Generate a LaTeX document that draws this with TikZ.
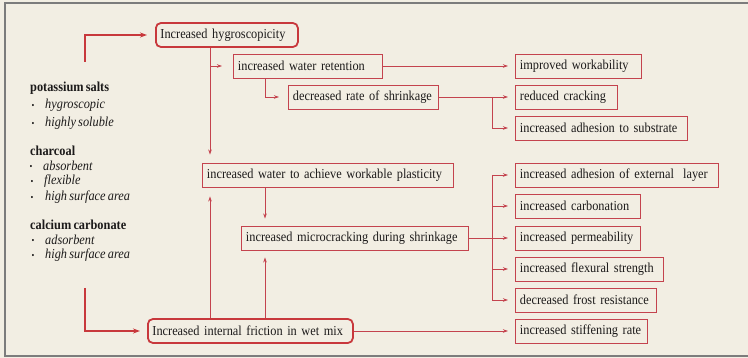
\documentclass[tikz,border=0pt]{standalone}
\usepackage{fontspec}
\setmainfont{Liberation Serif}[FakeStretch=0.9, WordSpace=0.72]
\usetikzlibrary{arrows.meta}
\definecolor{bg}{HTML}{F2EEE3}
\definecolor{boxred}{HTML}{C4434E}
\definecolor{thickred}{HTML}{C8383C}
\definecolor{framegray}{HTML}{7C7C7C}
\definecolor{ink}{HTML}{1C1A1A}
\newcommand{\mysize}{\fontsize{13.7}{16}\selectfont}
\tikzset{
  box/.style={draw=boxred, line width=0.9pt, text width=#1, align=left,
    inner xsep=4.5pt, inner ysep=0pt, minimum height=24pt, anchor=west,
    text=ink, font=\mysize},
  rbox/.style={box=#1, draw=thickred, line width=1.8pt, rounded corners=5pt},
  conn/.style={draw=boxred, line width=0.8pt, -{Stealth[length=5pt,width=3.5pt]}},
  thickconn/.style={draw=thickred, line width=1.8pt, -{Stealth[length=7pt,width=5pt]}},
  hd/.style={anchor=west, inner sep=0pt, text=ink, font=\mysize\bfseries},
  it/.style={anchor=west, inner sep=0pt, text=ink, font=\mysize\itshape},
  bul/.style={anchor=center, inner sep=0pt, text=ink, font=\fontsize{9}{10}\selectfont},
}
\begin{document}
\begin{tikzpicture}[x=1pt,y=-1pt]
\useasboundingbox (0,0) rectangle (748,358);
\fill[bg] (0,0) rectangle (748,358);
\draw[framegray, line width=2pt] (748,3) -- (5,3) -- (5,356) -- (748,356);

% left text
\node[hd] (ks) at (30,88) {potassium salts};
\node[bul] (b1) at (33,106) {\textbullet};
\node[it] (k1) at (45,105) {hygroscopic};
\node[bul] (b2) at (33,124) {\textbullet};
\node[it] (k2) at (45,123) {highly soluble};
\node[hd] (ch) at (30,151) {charcoal};
\node[bul] (b3) at (31,167) {\textbullet};
\node[it] (c1) at (43,166) {absorbent};
\node[bul] (b4) at (32,182) {\textbullet};
\node[it] (c2) at (44,181) {flexible};
\node[bul] (b5) at (32,198) {\textbullet};
\node[it] (c3) at (45,197) {high surface area};
\node[hd] (cc) at (30,225) {calcium carbonate};
\node[bul] (b6) at (33,241) {\textbullet};
\node[it] (d1) at (45,240) {adsorbent};
\node[bul] (b7) at (33,256) {\textbullet};
\node[it] (d2) at (45,255) {high surface area};

% boxes
\node[rbox=133pt] (hyg) at (155,35) {\mbox{Increased hygroscopicity}};
\node[box=140pt] (ret) at (233,66) {\mbox{increased water retention}};
\node[box=141pt] (shr) at (288,97) {\mbox{decreased rate of shrinkage}};
\node[box=117pt] (imp) at (515,66) {\mbox{improved workability}};
\node[box=93pt] (red) at (515,97) {\mbox{reduced cracking}};
\node[box=163pt] (sub) at (515,128) {\mbox{increased adhesion to substrate}};
\node[box=242pt] (wat) at (202,175) {\mbox{increased water to achieve workable plasticity}};
\node[box=194pt] (ext) at (515,175) {\mbox{increased adhesion of external\ \ layer}};
\node[box=116pt] (carb) at (515,206) {\mbox{increased carbonation}};
\node[box=218pt] (mic) at (241,238) {\mbox{increased microcracking during shrinkage}};
\node[box=116pt] (perm) at (515,238) {\mbox{increased permeability}};
\node[box=139pt] (flex) at (515,269) {\mbox{increased flexural strength}};
\node[box=132pt] (frost) at (515,300) {\mbox{decreased frost resistance}};
\node[box=123pt] (stiff) at (515,331) {\mbox{increased stiffening rate}};
\node[rbox=196pt] (fric) at (147,331) {\mbox{Increased internal friction in wet mix}};

% coordinates
\coordinate (s1) at (85,62);
\coordinate (s2) at (85,288);
\coordinate (j1) at (210,66);
\coordinate (j2) at (265,97);
\coordinate (j3) at (492,97);
\coordinate (j4) at (492,175);
\coordinate (j5) at (492,300);

% thick connectors
\draw[thickconn, shorten >=8pt] (s1) |- (hyg.west);
\draw[thickconn, shorten >=7pt] (s2) |- (fric.west);

% thin connectors
\draw[conn, shorten >=8pt] (hyg.south -| j1) -- (wat.north -| j1);
\draw[conn, shorten >=11pt] (j1) -- (ret.west);
\draw[conn, shorten >=9pt] (ret.south -| j2) |- (shr.west);
\draw[conn, shorten >=7pt] (ret.east) -- (imp.west);
\draw[conn, shorten >=7pt] (shr.east) -- (red.west);
\draw[conn, shorten >=7pt] (j3) |- (sub.west);
\draw[conn, shorten >=7pt] (wat.south -| j2) -- (mic.north -| j2);
\draw[conn, shorten >=9pt] (fric.north -| j1) -- (wat.south -| j1);
\draw[conn, shorten >=7pt] (fric.north -| j2) -- (mic.south -| j2);
\draw[conn, shorten >=7pt] (mic.east) -- (perm.west);
\draw[draw=boxred, line width=0.8pt] (j4) -- (j5);
\draw[conn, shorten >=7pt] (j4) -- (ext.west);
\draw[conn, shorten >=7pt] (j4 |- carb.west) -- (carb.west);
\draw[conn, shorten >=7pt] (j4 |- flex.west) -- (flex.west);
\draw[conn, shorten >=7pt] (j5) -- (frost.west);
\draw[conn, shorten >=7pt] (fric.east) -- (stiff.west);
\end{tikzpicture}
\end{document}
